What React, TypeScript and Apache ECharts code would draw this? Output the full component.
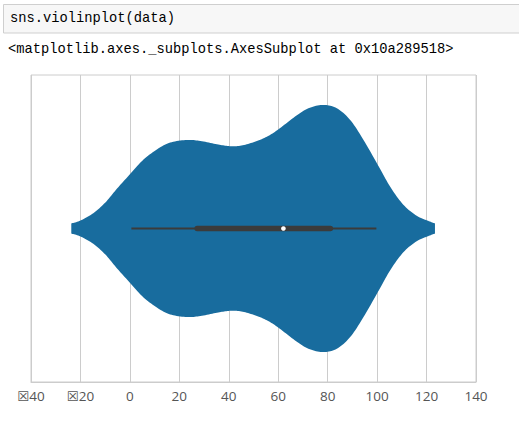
import React, { useEffect, useRef } from "react";
import * as echarts from "echarts";

// Violin outline: positions along x and half-width density (y-axis units, axis spans -1..1)
const violinX = [-23.7, -20.0, -14.8, -9.9, -5.2, 0, 5.5, 11.6, 16.3, 23.1, 28.5, 35.2, 39.9, 44.6, 50.0, 55.4, 60.1, 66.2, 72.2, 78.3, 83.7, 89.1, 94.5, 100.3, 105.3, 110.6, 116.0, 120.6, 123.4];
const violinDensity = [0.033, 0.052, 0.1, 0.17, 0.26, 0.353, 0.449, 0.522, 0.56, 0.577, 0.57, 0.549, 0.537, 0.539, 0.562, 0.598, 0.646, 0.722, 0.783, 0.805, 0.783, 0.707, 0.577, 0.414, 0.272, 0.155, 0.083, 0.05, 0.033];

// Inner box statistics
const whiskerLow = 0.6;
const q1 = 27.2;
const median = 62.1;
const q3 = 81.1;
const whiskerHigh = 99.7;

// X axis ticks and labels as shown
const xTicks = [-40, -20, 0, 20, 40, 60, 80, 100, 120, 140];
const xTickLabels = ["☒40", "☒20", "0", "20", "40", "60", "80", "100", "120", "140"];

const codeText = "sns.violinplot(data)";
const outText = "<matplotlib.axes._subplots.AxesSubplot at 0x10a289518>";

function catmull(pts: number[][], segs: number): number[][] {
  const out: number[][] = [];
  const n = pts.length;
  for (let i = 0; i < n - 1; i++) {
    const p0 = pts[Math.max(i - 1, 0)];
    const p1 = pts[i];
    const p2 = pts[i + 1];
    const p3 = pts[Math.min(i + 2, n - 1)];
    for (let s = 0; s < segs; s++) {
      const t = s / segs;
      const t2 = t * t;
      const t3 = t2 * t;
      const f = (a: number, b: number, c: number, d: number) =>
        0.5 * (2 * b + (-a + c) * t + (2 * a - 5 * b + 4 * c - d) * t2 + (-a + 3 * b - 3 * c + d) * t3);
      out.push([f(p0[0], p1[0], p2[0], p3[0]), f(p0[1], p1[1], p2[1], p3[1])]);
    }
  }
  out.push(pts[n - 1]);
  return out;
}

export default function App() {
  const ref = useRef<HTMLDivElement>(null);
  useEffect(() => {
    if (!ref.current) return;
    const chart = echarts.init(ref.current, undefined, { renderer: "svg" });
    const mono = "'Liberation Mono', 'DejaVu Sans Mono', monospace";
    chart.setOption({
      animation: false,
      backgroundColor: "#ffffff",
      grid: {
        left: 31,
        top: 75,
        right: 43,
        bottom: 39,
        show: true,
        borderColor: "#cccccc",
        borderWidth: 1,
        backgroundColor: "transparent",
      },
      xAxis: {
        type: "value",
        min: -40,
        max: 140,
        interval: 20,
        axisLine: { show: true, onZero: false, lineStyle: { color: "#cccccc", width: 1 } },
        axisTick: { show: false },
        splitLine: { show: true, lineStyle: { color: "#cccccc", width: 1 } },
        axisLabel: {
          color: "#555555",
          fontSize: 13.5,
          fontFamily: "'Open Sans', 'DejaVu Sans', sans-serif",
          margin: 7,
          formatter: (v: number) => {
            const i = xTicks.indexOf(v);
            return i >= 0 ? xTickLabels[i] : String(v);
          },
        },
      },
      yAxis: {
        type: "value",
        min: -1,
        max: 1,
        show: false,
        splitLine: { show: false },
      },
      graphic: [
        {
          type: "rect",
          shape: { x: 3.5, y: 4.5, width: 530, height: 28.5 },
          style: { fill: "#f7f7f7", stroke: "#cfcfcf", lineWidth: 1 },
        },
        {
          type: "text",
          x: 10,
          y: 18.5,
          style: { text: codeText, font: `13.75px ${mono}`, fill: "#000000", textVerticalAlign: "middle" },
        },
        {
          type: "text",
          x: 8,
          y: 49.5,
          style: { text: outText, font: `13.75px ${mono}`, fill: "#000000", textVerticalAlign: "middle" },
        },
      ],
      series: [
        {
          type: "custom",
          coordinateSystem: "cartesian2d",
          data: [[0, 0]],
          silent: true,
          renderItem: (_params: any, api: any) => {
            const top = violinX.map((x, i) => api.coord([x, violinDensity[i]]));
            const bottom = violinX.map((x, i) => api.coord([x, -violinDensity[i]]));
            const topS = catmull(top, 10);
            const botS = catmull(bottom, 10).reverse();
            const pts = topS.concat(botS);
            const wl = api.coord([whiskerLow, 0]);
            const wh = api.coord([whiskerHigh, 0]);
            const b1 = api.coord([q1, 0]);
            const b3 = api.coord([q3, 0]);
            const md = api.coord([median, 0]);
            return {
              type: "group",
              children: [
                {
                  type: "polygon",
                  shape: { points: pts },
                  style: { fill: "#186c9e", stroke: "none" },
                },
                {
                  type: "line",
                  shape: { x1: wl[0], y1: wl[1], x2: wh[0], y2: wh[1] },
                  style: { stroke: "#3b3b3b", lineWidth: 2 },
                },
                {
                  type: "line",
                  shape: { x1: b1[0], y1: b1[1], x2: b3[0], y2: b3[1] },
                  style: { stroke: "#3b3b3b", lineWidth: 5.5, lineCap: "round" },
                },
                {
                  type: "circle",
                  shape: { cx: md[0], cy: md[1], r: 2.3 },
                  style: { fill: "#ffffff", stroke: "none" },
                },
              ],
            };
          },
        },
      ],
    });
    return () => chart.dispose();
  }, []);
  return (
    <div
      ref={ref}
      style={{ position: "absolute", left: 0, top: 0, width: 519, height: 421 }}
    />
  );
}
